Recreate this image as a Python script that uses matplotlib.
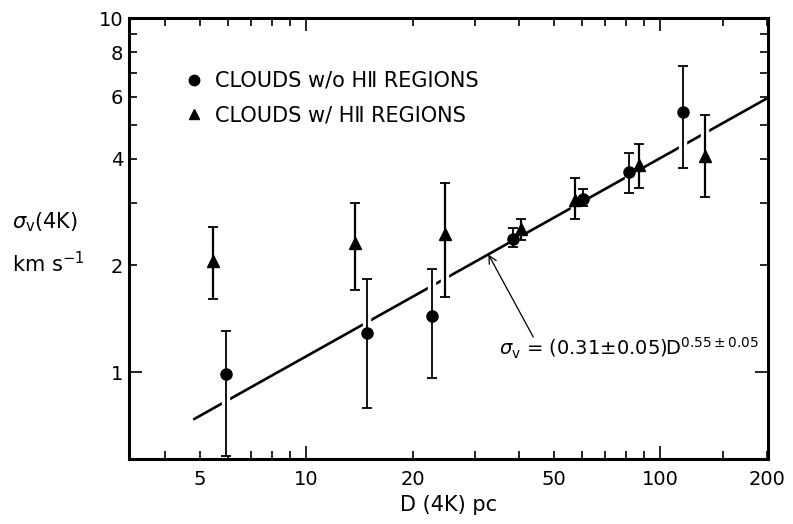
import matplotlib
matplotlib.use("Agg")
import numpy as np
import matplotlib.pyplot as plt
from matplotlib.lines import Line2D
from matplotlib.ticker import FixedLocator, FuncFormatter

plt.rcParams["font.family"] = ["DejaVu Sans"]
plt.rcParams["mathtext.fontset"] = "dejavusans"

# ── data ───────────────────────────────────────────────
# clouds without H II regions (circles)
d_no = [5.93, 14.9, 22.6, 38.5, 60.7, 81.8, 116.0]
s_no = [0.99, 1.29, 1.44, 2.38, 3.09, 3.68, 5.41]
s_no_hi = [1.31, 1.83, 1.96, 2.55, 3.28, 4.16, 7.32]
s_no_lo = [0.58, 0.79, 0.96, 2.26, 2.94, 3.21, 3.76]

# clouds with H II regions (triangles)
d_hii = [5.47, 13.75, 24.7, 40.4, 57.5, 86.9, 134.0]
s_hii = [2.06, 2.31, 2.45, 2.53, 3.06, 3.84, 4.08]
s_hii_hi = [2.57, 3.00, 3.41, 2.70, 3.54, 4.41, 5.32]
s_hii_lo = [1.61, 1.70, 1.63, 2.36, 2.70, 3.32, 3.12]

# fitted line as drawn in the figure
fit_coef = 0.305
fit_exp = 0.56
fit_range = [4.8, 200.0]
arrow_d = 32.7

x_major = [10, 100]
x_minor = [4, 5, 6, 7, 8, 9, 20, 30, 40, 50, 60, 70, 80, 90, 150, 200]
x_labels = {5: "5", 10: "10", 20: "20", 50: "50", 100: "100", 200: "200"}
y_major = [1, 10]
y_minor = [2, 3, 4, 5, 6, 7, 8, 9]
y_labels = {1: "1", 2: "2", 4: "4", 6: "6", 8: "8", 10: "10"}


def errs(v, hi, lo):
    v, hi, lo = map(np.asarray, (v, hi, lo))
    return np.vstack([v - lo, hi - v])


fig = plt.figure(figsize=(7.93, 5.24), dpi=100)
ax = fig.add_axes([0.1627, 0.124, 0.8058, 0.8416])
ax.set_xscale("log")
ax.set_yscale("log")
ax.set_xlim(3.162, 201.5)
ax.set_ylim(0.568, 10)

# fit line
dd = np.array(fit_range)
ax.plot(dd, fit_coef * dd ** fit_exp, color="black", lw=1.9, zorder=1,
        solid_capstyle="butt")

# white halos so the fit line breaks where error bars cross it
for d, s, hi, lo in [(d_no, s_no, s_no_hi, s_no_lo),
                     (d_hii, s_hii, s_hii_hi, s_hii_lo)]:
    ax.errorbar(d, s, yerr=errs(s, hi, lo), fmt="none", ecolor="white",
                elinewidth=6, capsize=0, zorder=2)

ax.errorbar(d_no, s_no, yerr=errs(s_no, s_no_hi, s_no_lo), fmt="none",
            ecolor="black", elinewidth=1.3, capsize=3.5, capthick=1.3, zorder=3)
ax.errorbar(d_hii, s_hii, yerr=errs(s_hii, s_hii_hi, s_hii_lo), fmt="none",
            ecolor="black", elinewidth=1.6, capsize=3.5, capthick=1.3, zorder=3)
ax.plot(d_no, s_no, "o", color="black", ms=8, zorder=4)
ax.plot(d_hii, s_hii, "^", color="black", ms=8, zorder=4)

# legend
handles = [Line2D([], [], ls="none", marker="o", color="black", ms=7.5),
           Line2D([], [], ls="none", marker="^", color="black", ms=7.5)]
ax.legend(handles, ["CLOUDS w/o HⅡ REGIONS", "CLOUDS w/ HⅡ REGIONS"],
          loc="upper left", bbox_to_anchor=(0.0923, 0.880), frameon=False,
          fontsize=15, handlelength=0.6, handletextpad=0.7, labelspacing=0.68,
          borderpad=0, borderaxespad=0)

# annotation
ax.annotate("", xy=(arrow_d, fit_coef * arrow_d ** fit_exp), xytext=(43.8, 1.256),
            arrowprops=dict(arrowstyle="->", color="black", lw=0.9,
                            mutation_scale=14, shrinkA=0, shrinkB=0))
ax.text(35.1, 1.117, r"$\sigma_{\rm v}$ = (0.31$\pm$0.05)D$^{0.55\pm0.05}$",
        fontsize=14, ha="left", va="baseline")

# ticks
ax.xaxis.set_major_locator(FixedLocator(x_major))
ax.xaxis.set_minor_locator(FixedLocator(x_minor))
ax.yaxis.set_major_locator(FixedLocator(y_major))
ax.yaxis.set_minor_locator(FixedLocator(y_minor))
lab = lambda table: FuncFormatter(lambda v, p: table.get(int(round(v)), ""))
ax.xaxis.set_major_formatter(lab(x_labels))
ax.xaxis.set_minor_formatter(lab(x_labels))
ax.yaxis.set_major_formatter(lab(y_labels))
ax.yaxis.set_minor_formatter(lab(y_labels))
ax.tick_params(which="both", direction="in", top=True, right=True,
               labelsize=14, width=1.2, color="black")
ax.tick_params(which="major", length=9.5)
ax.tick_params(which="minor", length=5.5)
ax.tick_params(axis="x", which="both", pad=8)
ax.tick_params(axis="y", which="both", pad=4)
for sp in ax.spines.values():
    sp.set_linewidth(2.2)

ax.set_xlabel("D (4K) pc", fontsize=15, labelpad=4)
fig.text(12 / 793, 1 - 222 / 524, r"$\sigma_{\rm v}$(4K)", fontsize=15,
         ha="left", va="center")
fig.text(12 / 793, 1 - 264 / 524, r"km s$^{-1}$", fontsize=15,
         ha="left", va="center")

fig.savefig("out.png", dpi=100)
